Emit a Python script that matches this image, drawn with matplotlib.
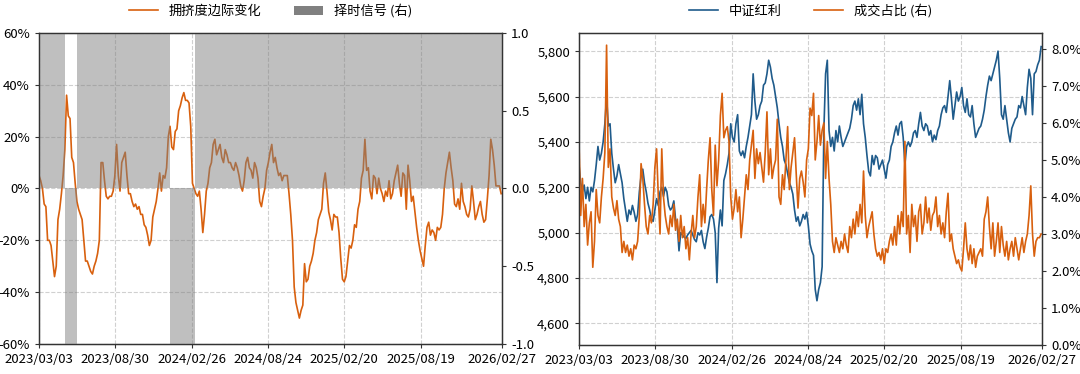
#!/usr/bin/env python3
"""Crowding change / timing signal and dividend index vs turnover share."""
import matplotlib

matplotlib.use("Agg")
import matplotlib.pyplot as plt
import matplotlib.dates as mdates
import matplotlib.ticker as mticker
import numpy as np
import pandas as pd
from matplotlib.lines import Line2D
from matplotlib.patches import Patch

plt.rcParams["font.family"] = ["Noto Sans CJK SC", "DejaVu Sans"]
plt.rcParams["axes.unicode_minus"] = False

START = "2023-03-03"
END = "2026-02-27"

# 拥挤度边际变化 (%), sampled evenly over the period
crowd = [
    5, 3, 0, -6, -7, -20, -20, -22, -28, -34, -30, -12, -8, -2, 5, 15, 36, 28, 27, 12,
    10, 2, -5, -8, -10, -12, -20, -28, -28, -30, -32, -33, -30, -28, -25, -20, 10, 10, 3, -3,
    -4, -3, -3, -1, 5, 17, 5, -1, 10, 12, 14, 5, -2, -2, -5, -7, -6, -8, -7, -10,
    -10, -14, -15, -18, -22, -20, -11, -8, -5, 0, 6, -1, 5, 4, 8, 20, 24, 16, 15, 22,
    23, 30, 32, 35, 37, 34, 34, 33, 24, 2, 0, -2, -3, -1, -8, -17, -10, -1, 2, 8,
    10, 17, 19, 13, 15, 17, 12, 10, 15, 13, 10, 10, 8, 7, 10, 8, 5, 1, -1, 3,
    10, 12, 8, 7, 4, 10, 8, 4, -5, -7, -3, 0, 7, 10, 14, 17, 10, 12, 8, 5,
    6, 3, 5, 5, 5, -2, -10, -20, -38, -44, -47, -50, -47, -45, -29, -36, -35, -30, -28, -25,
    -20, -17, -12, -10, -8, 2, 6, -1, -9, -12, -16, -10, -11, -11, -17, -27, -35, -36, -34, -28,
    -22, -23, -20, -14, -15, -8, -5, 4, 7, 19, 7, 8, -1, -4, 5, 4, -2, 4, 0, -2,
    -5, -1, -3, 3, -4, -2, 3, 6, 9, 2, -3, 6, 5, -8, 9, 3, -5, -3, -9, -15,
    -20, -24, -27, -30, -22, -15, -13, -18, -16, -17, -20, -15, -16, -15, -10, 0, 6, 10, 14, 8,
    3, -6, -7, -4, -8, 2, -5, -7, -10, -11, -8, 1, -5, -12, -10, -7, -5, -10, -13, -12,
    -4, 5, 19, 15, 9, 1, 1, 1, -2,
]

# 择时信号: value holds from each date until the next one
signal_dates = ["2023-03-03", "2023-05-03", "2023-05-31", "2024-01-05", "2024-03-06", "2026-02-27"]
signal_values = [1, -1, 1, -1, 1, 1]

# 中证红利 index level
dividend = [
    5300, 5220, 5180, 5210, 5150, 5200, 5140, 5200, 5180, 5230, 5300, 5380, 5320, 5350, 5400, 5480, 5600, 5470, 5480, 5350,
    5280, 5220, 5250, 5300, 5260, 5220, 5150, 5100, 5050, 5100, 5080, 5120, 5090, 5050, 5080, 5180, 5250, 5280, 5220, 5180,
    5130, 5100, 5060, 5050, 5100, 5150, 5120, 5180, 5200, 5160, 5200, 5180, 5120, 5100, 5110, 5140, 5060, 5030, 4920, 5000,
    4990, 4980, 4975, 4990, 5000, 5010, 4990, 4970, 4960, 5000, 4990, 5010, 4960, 4930, 4980, 5020, 5070, 5080, 5060, 5000,
    4780, 5020, 5100, 5030, 5230, 5260, 5300, 5350, 5480, 5420, 5400, 5480, 5520, 5360, 5340, 5360, 5330, 5380, 5420, 5470,
    5520, 5700, 5580, 5500, 5520, 5560, 5580, 5650, 5660, 5700, 5760, 5730, 5680, 5650, 5600, 5550, 5480, 5420, 5380, 5320,
    5300, 5260, 5220, 5200, 5170, 5100, 5050, 5070, 5030, 5050, 5080, 5060, 5090, 5030, 4950, 4920, 4900, 4750, 4700, 4750,
    4780, 4850, 5450, 5700, 5760, 5450, 5380, 5420, 5360, 5450, 5400, 5470, 5420, 5380, 5400, 5420, 5440, 5460, 5500, 5560,
    5580, 5540, 5590, 5520, 5610, 5480, 5420, 5340, 5270, 5250, 5340, 5300, 5340, 5330, 5280, 5300, 5320, 5280, 5240, 5300,
    5320, 5380, 5400, 5440, 5470, 5430, 5480, 5490, 5420, 5300, 5380, 5400, 5380, 5400, 5440, 5450, 5420, 5480, 5530, 5470,
    5450, 5480, 5470, 5430, 5450, 5400, 5430, 5410, 5450, 5470, 5520, 5550, 5560, 5530, 5600, 5670, 5590, 5500, 5560, 5620,
    5580, 5600, 5640, 5560, 5530, 5590, 5520, 5510, 5560, 5480, 5420, 5440, 5460, 5470, 5500, 5540, 5600, 5650, 5690, 5670,
    5700, 5730, 5760, 5800, 5680, 5520, 5500, 5560, 5500, 5440, 5400, 5460, 5480, 5500, 5510, 5560, 5550, 5600, 5560, 5520,
    5640, 5720, 5680, 5520, 5700, 5710, 5740, 5760, 5820,
]

# 成交占比 (%)
turnover = [
    5.5, 3.5, 4.5, 3.2, 3.8, 2.7, 3.3, 3.6, 2.1, 2.8, 4.2, 3.5, 3.3, 4.0, 4.5, 5.2, 8.1, 4.8, 5.3, 4.0,
    3.7, 3.5, 3.9, 3.4, 3.2, 2.5, 2.8, 2.5, 2.7, 2.4, 2.6, 2.3, 2.7, 2.6, 2.8, 3.5, 4.9, 4.5, 3.8, 3.2,
    3.0, 3.5, 3.3, 3.8, 4.8, 5.3, 4.0, 3.0, 5.3, 4.0, 3.5, 3.2, 3.0, 3.5, 3.2, 3.8, 3.1, 3.4, 2.8, 3.5,
    2.9, 3.2, 2.6, 2.9, 2.3, 3.0, 3.5, 2.9, 3.2, 4.0, 4.6, 3.2, 3.8, 3.3, 4.2, 5.0, 5.6, 4.2, 3.5, 5.4,
    4.3, 5.0, 6.2, 6.8, 5.6, 5.8, 5.9, 5.5, 4.0, 3.4, 3.7, 4.2, 3.6, 4.0, 2.9, 3.4, 4.0, 4.6, 4.2, 5.0,
    5.4, 5.8, 4.5, 5.3, 4.9, 5.2, 4.8, 4.4, 5.2, 6.3, 4.6, 5.3, 4.5, 4.8, 5.0, 6.1, 4.0, 3.8, 4.6, 4.2,
    5.0, 5.9, 4.2, 4.8, 5.2, 5.6, 4.6, 3.7, 4.5, 4.7, 4.4, 4.0, 5.0, 5.3, 6.4, 6.2, 6.8, 5.0, 5.5, 6.2,
    5.4, 5.8, 6.0, 4.5, 5.5, 4.5, 3.8, 2.8, 2.5, 2.9, 2.7, 2.5, 2.8, 2.6, 3.0, 2.7, 2.5, 3.2, 2.9, 3.4,
    3.0, 3.6, 3.2, 3.8, 3.3, 4.7, 3.5, 2.9, 3.2, 3.4, 3.6, 3.0, 2.6, 2.4, 2.5, 2.3, 2.6, 2.2, 2.6, 2.5,
    2.8, 3.0, 2.7, 3.2, 2.7, 3.5, 3.0, 3.6, 3.2, 5.5, 3.0, 3.5, 2.5, 3.8, 3.2, 3.5, 2.8, 3.6, 3.8, 3.0,
    3.3, 4.0, 3.3, 3.7, 3.1, 3.5, 3.6, 4.0, 3.2, 3.5, 3.0, 3.3, 2.9, 3.6, 4.1, 2.8, 3.0, 2.6, 2.4, 2.2,
    2.3, 2.1, 2.0, 2.6, 3.3, 2.6, 2.3, 2.7, 2.2, 2.6, 2.1, 2.4, 2.5, 2.6, 2.4, 3.4, 3.6, 4.0, 3.2, 2.6,
    3.3, 2.4, 2.8, 3.3, 2.5, 3.2, 2.7, 2.4, 2.8, 2.3, 2.6, 2.8, 2.4, 2.9, 2.6, 2.3, 2.6, 2.9, 2.5, 2.8,
    3.0, 3.5, 4.3, 3.0, 2.4, 2.8, 2.9, 2.9, 3.0,
]

tick_dates = ["2023-03-03", "2023-08-30", "2024-02-26", "2024-08-24",
              "2025-02-20", "2025-08-19", "2026-02-27"]

ORANGE = "#d8600e"
BLUE = "#1f5b8b"
GRID = dict(color="#d0d0d0", linestyle="--", linewidth=0.8)

dates_left = pd.date_range(START, "2026-02-25", periods=len(crowd))
dates_right = pd.date_range(START, "2026-02-25", periods=len(dividend))
ticks = pd.to_datetime(tick_dates)

fig = plt.figure(figsize=(10.8, 3.74), dpi=100)
ax1 = fig.add_axes([0.0361, 0.0802, 0.4287, 0.8316])
ax3 = fig.add_axes([0.5361, 0.0775, 0.4287, 0.8343])


def style_axes(ax):
    ax.set_xlim(pd.Timestamp(START), pd.Timestamp(END))
    ax.set_xticks(ticks)
    ax.xaxis.set_major_formatter(mdates.DateFormatter("%Y/%m/%d"))
    ax.grid(True, **GRID)
    ax.set_axisbelow(True)
    ax.tick_params(labelsize=9.5, length=3, color="#333333")
    for sp in ax.spines.values():
        sp.set_color("#333333")
        sp.set_linewidth(1.0)


# Left: crowding change + timing signal
ax1.plot(dates_left, crowd, color=ORANGE, lw=1.2)
ax1.set_ylim(-60, 60)
ax1.set_yticks(np.arange(-60, 61, 20))
ax1.yaxis.set_major_formatter(mticker.FuncFormatter(lambda v, p: f"{v:.0f}%"))
style_axes(ax1)

ax2 = ax1.twinx()
ax2.fill_between(pd.to_datetime(signal_dates), 0, signal_values, step="post",
                 color="gray", alpha=0.5, lw=0)
ax2.set_ylim(-1, 1)
ax2.set_yticks([-1.0, -0.5, 0.0, 0.5, 1.0])
ax2.yaxis.set_major_formatter(mticker.FormatStrFormatter("%.1f"))
ax2.tick_params(labelsize=9.5, length=3, color="#333333")
for sp in ax2.spines.values():
    sp.set_color("#333333")
ax2.set_xlim(pd.Timestamp(START), pd.Timestamp(END))

handles = [Line2D([0], [0], color=ORANGE, lw=1.2),
           Patch(facecolor="#808080", edgecolor="none")]
ax1.legend(handles, ["拥挤度边际变化", "择时信号 (右)"], loc="lower center",
           bbox_to_anchor=(0.5, 1.01), ncol=2, frameon=False, fontsize=9.5,
           columnspacing=2.5, handlelength=2.2)

# Right: dividend index vs turnover share
ax3.plot(dates_right, dividend, color=BLUE, lw=1.2)
ax3.set_ylim(4505, 5880)
ax3.set_yticks(np.arange(4600, 5801, 200))
ax3.yaxis.set_major_formatter(mticker.FuncFormatter(lambda v, p: f"{v:,.0f}"))
style_axes(ax3)

ax4 = ax3.twinx()
ax4.plot(dates_right, turnover, color=ORANGE, lw=1.2)
ax4.set_ylim(0, 8.43)
ax4.set_yticks(np.arange(0, 8.1, 1.0))
ax4.yaxis.set_major_formatter(mticker.FuncFormatter(lambda v, p: f"{v:.1f}%"))
ax4.tick_params(labelsize=9.5, length=3, color="#333333")
for sp in ax4.spines.values():
    sp.set_color("#333333")
ax4.set_xlim(pd.Timestamp(START), pd.Timestamp(END))

handles = [Line2D([0], [0], color=BLUE, lw=1.2), Line2D([0], [0], color=ORANGE, lw=1.2)]
ax3.legend(handles, ["中证红利", "成交占比 (右)"], loc="lower center",
           bbox_to_anchor=(0.5, 1.01), ncol=2, frameon=False, fontsize=9.5,
           columnspacing=2.5, handlelength=2.2)

fig.savefig("out.png", dpi=100)
